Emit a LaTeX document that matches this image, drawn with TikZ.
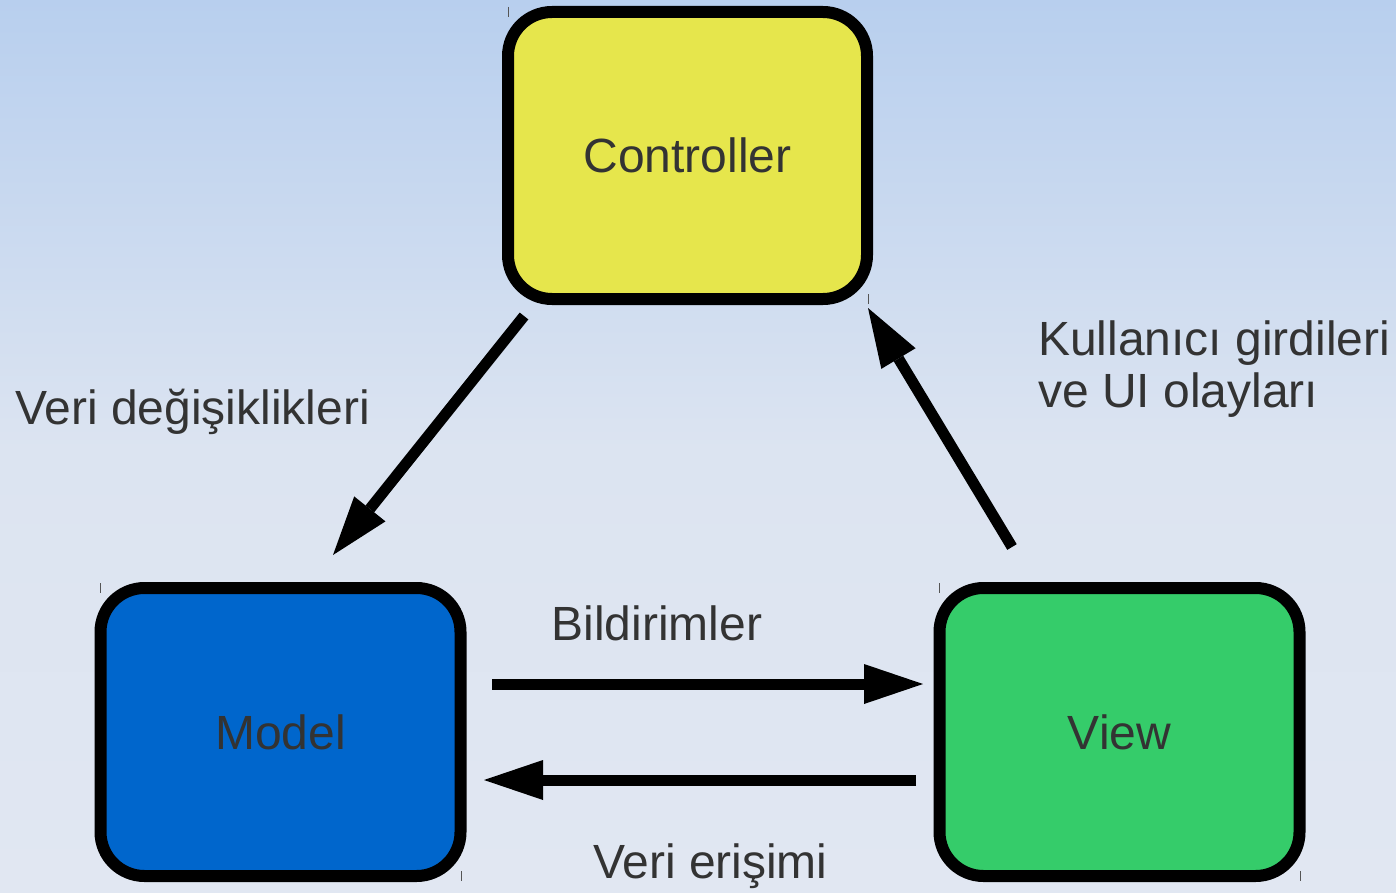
\documentclass[tikz,border=0pt]{standalone}
\usepackage{fontspec}
\setmainfont{Liberation Sans}
\usetikzlibrary{arrows.meta,calc}
\definecolor{bgtop}{HTML}{B8CFEE}
\definecolor{bgmid}{HTML}{DCE4F1}
\definecolor{bgbot}{HTML}{E1E7F2}
\definecolor{txt}{HTML}{333333}
\definecolor{ctrlfill}{HTML}{E6E64C}
\definecolor{modelfill}{HTML}{0066CC}
\definecolor{viewfill}{HTML}{35CC6A}
\definecolor{tickcol}{HTML}{555555}
\begin{document}
\begin{tikzpicture}[x=1pt,y=-1pt,
  box/.style={draw=black, line width=12pt, rounded corners=44pt,
    minimum width=360pt, minimum height=288pt, outer sep=0pt, inner sep=0pt,
    text=txt, font=\fontsize{48}{55}\selectfont},
  lbl/.style={text=txt, font=\fontsize{48}{52}\selectfont, inner sep=0pt, outer sep=0pt},
  conn/.style={draw=black, line width=11pt, line cap=butt,
    -{Triangle[length=59pt,width=40pt,line width=0pt]}},
  tickmark/.style={draw=tickcol, line width=1pt}]
% background
\useasboundingbox (0,0) rectangle (1396,893);
\shade[top color=bgtop, bottom color=bgmid] (0,0) rectangle (1396,450);
\shade[top color=bgmid, bottom color=bgbot] (0,450) rectangle (1396,893);
% boxes
\node[box, fill=ctrlfill, minimum width=359pt, minimum height=287pt] (C) at (687.5,155.5) {Controller};
\node[box, fill=modelfill] (M) at (280.5,732) {Model};
\node[box, fill=viewfill] (V) at (1119.5,732) {View};
% corner ticks
\foreach \n in {C,M,V}{
  \draw[tickmark] ($(\n.north west)+(0,-5)$) -- ($(\n.north west)+(0,5)$);
  \draw[tickmark] ($(\n.south east)+(1,-5)$) -- ($(\n.south east)+(1,5)$);
}
% connector end points
\coordinate (cmS) at (524,316);
\coordinate (cmE) at (333,555);
\coordinate (vcS) at (1012,547);
\coordinate (vcE) at (868,308);
\coordinate (mvS) at (492,684);
\coordinate (mvE) at (923,684);
\coordinate (vmS) at (916,780);
\coordinate (vmE) at (484,780);
\draw[conn] (cmS) -- (cmE);
\draw[conn] (vcS) -- (vcE);
\draw[conn] (mvS) -- (mvE);
\draw[conn] (vmS) -- (vmE);
% labels
\node[lbl, anchor=base west] (l1) at (15,424) {Veri değişiklikleri};
\node[lbl, anchor=base west, align=left] (l2) at (1038,407) {Kullanıcı girdileri\\ve UI olayları};
\node[lbl, anchor=base west] (l3) at (551.5,640) {Bildirimler};
\node[lbl, anchor=base west] (l4) at (593,878) {Veri erişimi};
\end{tikzpicture}
\end{document}
